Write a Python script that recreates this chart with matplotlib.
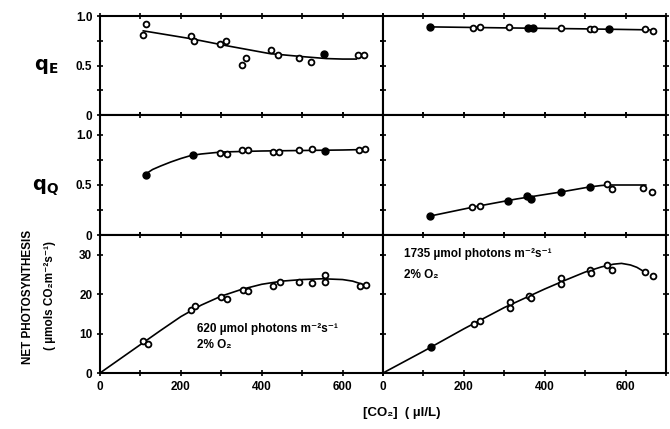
import matplotlib
matplotlib.use("Agg")
import matplotlib.pyplot as plt
from matplotlib.ticker import MultipleLocator, FixedLocator, FuncFormatter
import numpy as np

plt.rcParams['font.family'] = ['Liberation Sans', 'DejaVu Sans']
plt.rcParams['font.weight'] = 'bold'

# ---------------- data ----------------
# q_E, 620 umol photons
qE620_x = [106, 115, 225, 232, 296, 311, 350, 362, 424, 440, 491, 523, 553, 638, 654]
qE620_y = [0.81, 0.92, 0.80, 0.75, 0.72, 0.75, 0.51, 0.58, 0.66, 0.61, 0.58, 0.54, 0.62, 0.61, 0.61]
qE620_f = [0, 0, 0, 0, 0, 0, 0, 0, 0, 0, 0, 0, 1, 0, 0]
qE620_cx = [107, 226, 313, 420, 500, 560, 600, 634]
qE620_cy = [0.85, 0.77, 0.70, 0.62, 0.59, 0.57, 0.565, 0.565]

# q_E, 1735 umol photons
qE1735_x = [117, 222, 241, 312, 359, 370, 441, 512, 522, 559, 649, 669]
qE1735_y = [0.89, 0.88, 0.885, 0.885, 0.875, 0.875, 0.875, 0.87, 0.87, 0.865, 0.865, 0.85]
qE1735_f = [1, 0, 0, 0, 1, 1, 0, 0, 0, 1, 0, 0]
qE1735_cx = [117, 300, 500, 660]
qE1735_cy = [0.89, 0.88, 0.87, 0.86]

# q_Q, 620
qQ620_x = [113, 230, 298, 313, 352, 366, 428, 442, 491, 524, 557, 640, 656]
qQ620_y = [0.60, 0.80, 0.82, 0.81, 0.85, 0.85, 0.83, 0.83, 0.85, 0.86, 0.84, 0.85, 0.86]
qQ620_f = [1, 1, 0, 0, 0, 0, 0, 0, 0, 0, 1, 0, 0]
qQ620_cx = [113, 130, 150, 175, 200, 225, 250, 300, 400, 500, 600, 656]
qQ620_cy = [0.61, 0.655, 0.69, 0.73, 0.765, 0.795, 0.81, 0.83, 0.84, 0.845, 0.85, 0.855]

# q_Q, 1735
qQ1735_x = [117, 221, 239, 309, 357, 365, 440, 511, 554, 566, 644, 666]
qQ1735_y = [0.19, 0.28, 0.29, 0.34, 0.39, 0.36, 0.43, 0.48, 0.51, 0.46, 0.47, 0.43]
qQ1735_f = [1, 0, 0, 1, 1, 1, 1, 1, 0, 0, 0, 0]
qQ1735_cx = [117, 230, 330, 440, 510, 540, 560, 600, 650]
qQ1735_cy = [0.19, 0.285, 0.36, 0.43, 0.48, 0.495, 0.50, 0.50, 0.50]

# Net photosynthesis, 620
PN620_x = [107, 118, 225, 235, 300, 315, 354, 366, 428, 446, 491, 524, 557, 557, 642, 657]
PN620_y = [8.0, 7.4, 15.9, 17.0, 19.4, 18.7, 21.1, 20.7, 22.0, 23.2, 23.2, 22.7, 24.9, 23.2, 22.1, 22.3]
PN620_f = [0] * 16
PN620_cx = [0, 50, 100, 150, 200, 250, 300, 350, 400, 450, 500, 550, 600, 625, 646]
PN620_cy = [0, 3.6, 7.2, 10.8, 14.3, 17.2, 19.5, 21.2, 22.5, 23.3, 23.7, 23.9, 23.7, 23.3, 22.6]

# Net photosynthesis, 1735
PN1735_x = [119, 225, 239, 313, 313, 361, 367, 440, 440, 512, 515, 554, 566, 649, 668]
PN1735_y = [6.5, 12.5, 13.3, 17.9, 16.6, 19.6, 19.0, 24.1, 22.6, 26.2, 25.4, 27.3, 26.2, 25.6, 24.7]
PN1735_f = [1, 0, 0, 0, 0, 0, 0, 0, 0, 0, 0, 0, 0, 0, 0]
PN1735_cx = [0, 100, 200, 300, 400, 450, 500, 540, 570, 590, 612, 628, 641]
PN1735_cy = [0, 5.5, 11.2, 16.6, 21.3, 23.5, 25.6, 26.9, 27.6, 27.8, 27.4, 26.8, 26.0]

x_tick_labels = ['0', '200', '400', '600']

# ---------------- figure ----------------
fig = plt.figure(figsize=(6.70, 4.29), dpi=100)
W, H = 670.0, 429.0
xl, xm, xr = 100 / W, 383 / W, 666 / W
yb = [16, 115, 235, 373]  # pixel rows of panel borders

panels = [
    (qE620_x, qE620_y, qE620_f, qE620_cx, qE620_cy, 0, 0, (0, 1.0)),
    (qE1735_x, qE1735_y, qE1735_f, qE1735_cx, qE1735_cy, 0, 1, (0, 1.0)),
    (qQ620_x, qQ620_y, qQ620_f, qQ620_cx, qQ620_cy, 1, 0, (0, 1.2)),
    (qQ1735_x, qQ1735_y, qQ1735_f, qQ1735_cx, qQ1735_cy, 1, 1, (0, 1.2)),
    (PN620_x, PN620_y, PN620_f, PN620_cx, PN620_cy, 2, 0, (0, 35)),
    (PN1735_x, PN1735_y, PN1735_f, PN1735_cx, PN1735_cy, 2, 1, (0, 35)),
]

axes = {}
for (x, y, f, cx, cy, r, c, ylim) in panels:
    top, bot = yb[r], yb[r + 1]
    left = xl if c == 0 else xm
    width = (xm - xl) if c == 0 else (xr - xm)
    ax = fig.add_axes([left, 1 - bot / H, width, (bot - top) / H])
    axes[(r, c)] = ax
    ax.set_xlim(0, 700)
    ax.set_ylim(*ylim)
    for s in ax.spines.values():
        s.set_linewidth(1.5)
    ax.plot(cx, cy, color='black', lw=1.2, zorder=2, solid_joinstyle='round')
    x = np.array(x); y = np.array(y); f = np.array(f, dtype=bool)
    ax.plot(x[~f], y[~f], 'o', ms=4.2, mfc='white', mec='black', mew=1.3,
            zorder=3, clip_on=False)
    ax.plot(x[f], y[f], 'o', ms=5.0, mfc='black', mec='black', mew=1.0,
            zorder=3, clip_on=False)

    ax.xaxis.set_major_locator(MultipleLocator(100))
    if r == 2:
        ax.xaxis.set_major_formatter(FuncFormatter(
            lambda v, p: x_tick_labels[int(round(v / 200))] if (int(round(v)) % 200 == 0 and v < 700) else ''))
    else:
        ax.xaxis.set_major_formatter(FuncFormatter(lambda v, p: ''))
    if r < 2:
        ax.yaxis.set_major_locator(FixedLocator([0, 0.5, 1.0]))
        ax.yaxis.set_minor_locator(FixedLocator([0.25, 0.75]))
        ax.yaxis.set_major_formatter(FuncFormatter(
            lambda v, p: '0' if v == 0 else f'{v:.1f}'))
    else:
        ax.yaxis.set_major_locator(FixedLocator([0, 10, 20, 30]))
        ax.yaxis.set_major_formatter(FuncFormatter(lambda v, p: f'{int(v)}'))
    if c == 1:
        ax.yaxis.set_major_formatter(FuncFormatter(lambda v, p: ''))
    ax.tick_params(axis='both', which='both', direction='inout', length=5,
                   width=1.2, top=True, right=True, labelsize=8.5, pad=3)
    ax.tick_params(axis='y', which='minor', length=5)
    for lab in ax.get_xticklabels() + ax.get_yticklabels():
        lab.set_fontweight('bold')

# annotations
axes[(2, 0)].text(240, 10.5, '620 µmol photons m⁻²s⁻¹', fontsize=8.5,
                  fontweight='bold', va='baseline', ha='left')
axes[(2, 0)].text(240, 6.3, '2% O₂', fontsize=8.5, fontweight='bold',
                  va='baseline', ha='left')
axes[(2, 1)].text(52, 29.3, '1735 µmol photons m⁻²s⁻¹', fontsize=8.5,
                  fontweight='bold', va='baseline', ha='left')
axes[(2, 1)].text(52, 24.2, '2% O₂', fontsize=8.5, fontweight='bold',
                  va='baseline', ha='left')

# y labels
fig.text(46 / W, 1 - 67 / H, r'$\mathbf{q_E}$', fontsize=14, ha='center', va='center')
fig.text(46 / W, 1 - 188 / H, r'$\mathbf{q_Q}$', fontsize=14, ha='center', va='center')
fig.text(28 / W, 1 - 297 / H, 'NET PHOTOSYNTHESIS', rotation=90, fontsize=8.5,
         fontweight='bold', ha='center', va='center')
fig.text(50 / W, 1 - 295 / H, '( µmols CO₂m⁻²s⁻¹)', rotation=90, fontsize=8.5,
         fontweight='bold', ha='center', va='center')

# x label
fig.text(402 / W, 1 - 413 / H, '[CO₂]  ( µl/L)', fontsize=9.5, fontweight='bold',
         ha='center', va='center')

fig.savefig('out.png', dpi=100)
